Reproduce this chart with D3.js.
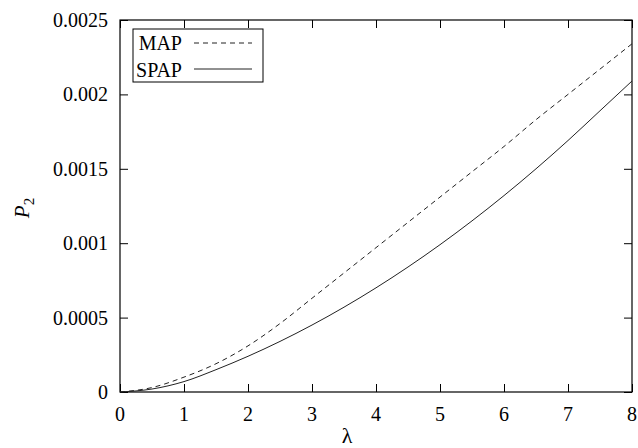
<!DOCTYPE html>
<html>
<head>
<meta charset="utf-8">
<script src="https://cdn.jsdelivr.net/npm/d3@7"></script>
<style>
  body { margin: 0; background: #fff; }
</style>
</head>
<body>
<script>
// values
var lambdas = [0, 0.5, 1, 1.5, 2, 2.5, 3, 3.5, 4, 4.5, 5, 5.5, 6, 6.5, 7, 7.5, 8];
var mapValues = [0, 0.00003, 0.0001, 0.00019, 0.00031, 0.00046, 0.00063, 0.0008, 0.00097, 0.00114, 0.00131, 0.00148, 0.00165, 0.00183, 0.002, 0.00217, 0.00234];
var spapValues = [0, 0.00002, 0.00007, 0.00015, 0.00024, 0.00034, 0.00045, 0.00057, 0.0007, 0.00084, 0.00099, 0.00115, 0.00132, 0.0015, 0.00169, 0.00189, 0.00209];
var xTicks = [0, 1, 2, 3, 4, 5, 6, 7, 8];
var yTicks = [0, 0.0005, 0.001, 0.0015, 0.002, 0.0025];
var yTickLabels = ["0", "0.0005", "0.001", "0.0015", "0.002", "0.0025"];

var serif = "Liberation Serif, Times New Roman, serif";
var W = 638, H = 448;
var margin = {top: 20, right: 6, bottom: 56, left: 120};
var width = W - margin.left - margin.right;
var height = H - margin.top - margin.bottom;

var svg = d3.select("body").append("svg")
    .attr("width", W)
    .attr("height", H)
    .attr("font-family", serif);

var g = svg.append("g")
    .attr("transform", "translate(" + margin.left + "," + margin.top + ")");

var x = d3.scaleLinear().domain([0, 8]).range([0, width]);
var y = d3.scaleLinear().domain([0, 0.0025]).range([height, 0]);

var tickLen = 8;

// inward ticks on all four sides
function noDomain(s) { s.select(".domain").remove(); }
g.append("g")
    .attr("transform", "translate(0," + height + ")")
    .call(d3.axisTop(x).tickValues(xTicks).tickSize(tickLen).tickFormat(""))
    .call(noDomain);
g.append("g")
    .call(d3.axisBottom(x).tickValues(xTicks).tickSize(tickLen).tickFormat(""))
    .call(noDomain);
g.append("g")
    .call(d3.axisRight(y).tickValues(yTicks).tickSize(tickLen).tickFormat(""))
    .call(noDomain);
g.append("g")
    .attr("transform", "translate(" + width + ",0)")
    .call(d3.axisLeft(y).tickValues(yTicks).tickSize(tickLen).tickFormat(""))
    .call(noDomain);

g.selectAll(".tick line").attr("stroke", "#000");

// tick labels
g.selectAll(".xlab")
    .data(xTicks)
    .enter().append("text")
    .attr("class", "xlab")
    .attr("x", function(d) { return x(d); })
    .attr("y", height + 29)
    .attr("text-anchor", "middle")
    .attr("font-family", serif)
    .attr("font-size", 20)
    .text(function(d) { return d; });

g.selectAll(".ylab")
    .data(yTicks)
    .enter().append("text")
    .attr("class", "ylab")
    .attr("x", -12)
    .attr("y", function(d) { return y(d) + 7; })
    .attr("text-anchor", "end")
    .attr("font-family", serif)
    .attr("font-size", 20)
    .text(function(d, i) { return yTickLabels[i]; });

// frame
g.append("rect")
    .attr("width", width)
    .attr("height", height)
    .attr("fill", "none")
    .attr("stroke", "#000")
    .attr("stroke-width", 1.2);

var line = d3.line()
    .x(function(d) { return x(d[0]); })
    .y(function(d) { return y(d[1]); })
    .curve(d3.curveMonotoneX);

g.append("path")
    .datum(d3.zip(lambdas, mapValues))
    .attr("d", line)
    .attr("fill", "none")
    .attr("stroke", "#222")
    .attr("stroke-width", 1)
    .attr("stroke-dasharray", "5,4");

g.append("path")
    .datum(d3.zip(lambdas, spapValues))
    .attr("d", line)
    .attr("fill", "none")
    .attr("stroke", "#222")
    .attr("stroke-width", 1);

// legend
var leg = svg.append("g").attr("transform", "translate(133,29)");
leg.append("rect")
    .attr("width", 130)
    .attr("height", 53)
    .attr("fill", "#fff")
    .attr("stroke", "#000");
var legItems = [{name: "MAP", dash: "5,4"}, {name: "SPAP", dash: null}];
legItems.forEach(function(d, i) {
    leg.append("text")
        .attr("x", 49)
        .attr("y", 21 + i * 27)
        .attr("text-anchor", "end")
        .attr("font-family", serif)
        .attr("font-size", 20)
        .text(d.name);
    leg.append("line")
        .attr("x1", 61).attr("x2", 119)
        .attr("y1", 14 + i * 26).attr("y2", 14 + i * 26)
        .attr("stroke", "#222")
        .attr("stroke-dasharray", d.dash);
});

// axis titles
svg.append("text")
    .attr("x", 347)
    .attr("y", 443)
    .attr("text-anchor", "middle")
    .attr("font-family", serif)
    .attr("font-size", 22)
    .text("λ");

var yt = svg.append("text")
    .attr("transform", "translate(29,208) rotate(-90)")
    .attr("text-anchor", "middle")
    .attr("font-family", serif)
    .attr("font-size", 21);
yt.append("tspan").attr("font-style", "italic").text("P");
yt.append("tspan").attr("dy", 5).attr("font-size", 15).text("2");
</script>
</body>
</html>
